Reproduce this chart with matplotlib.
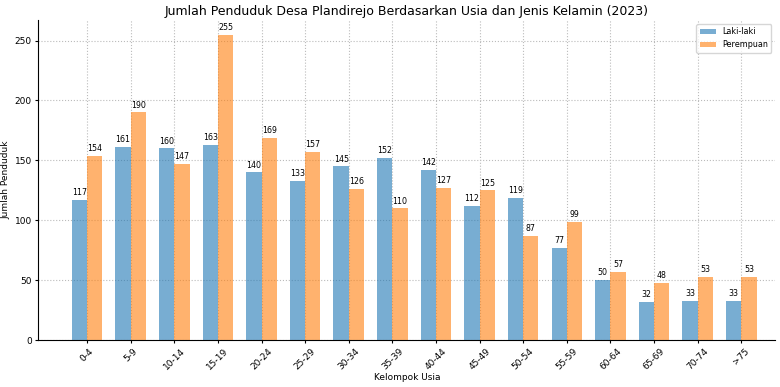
import numpy as np
import matplotlib.pyplot as plt

groups = ['0-4', '5-9', '10-14', '15-19', '20-24', '25-29', '30-34', '35-39',
          '40-44', '45-49', '50-54', '55-59', '60-64', '65-69', '70-74', '>75']
laki = [117, 161, 160, 163, 140, 133, 145, 152, 142, 112, 119, 77, 50, 32, 33, 33]
perempuan = [154, 190, 147, 255, 169, 157, 126, 110, 127, 125, 87, 99, 57, 48, 53, 53]

x = np.arange(len(groups))
w = 0.35

fig = plt.figure(figsize=(7.8, 3.87), dpi=100)
ax = fig.add_subplot(111)
fig.subplots_adjust(left=0.049, right=0.994, top=0.948, bottom=0.121)

b1 = ax.bar(x - w/2, laki, w, color='tab:blue', alpha=0.6, label='Laki-laki')
b2 = ax.bar(x + w/2, perempuan, w, color='tab:orange', alpha=0.6, label='Perempuan')

for bars in (b1, b2):
    for b in bars:
        h = b.get_height()
        ax.annotate(f'{int(h)}', (b.get_x() + b.get_width()/2, h), xytext=(0, 2),
                    textcoords='offset points', ha='center', va='bottom', fontsize=5.7)

ax.set_xticks(x)
ax.set_xticklabels(groups, rotation=45, fontsize=6.5)
ax.tick_params(axis='y', labelsize=6.5)
ax.tick_params(length=2.5, pad=2)
ax.set_xlim(-1.12, 15.78)
ax.set_ylim(0, 267)
ax.set_xlabel('Kelompok Usia', fontsize=6.5, labelpad=1)
ax.set_ylabel('Jumlah Penduduk', fontsize=6.5, labelpad=3)
ax.set_title('Jumlah Penduduk Desa Plandirejo Berdasarkan Usia dan Jenis Kelamin (2023)',
             fontsize=9, pad=4)
ax.grid(True, linestyle=':', color='#bbbbbb', linewidth=0.8)
ax.set_axisbelow(True)
ax.spines['top'].set_visible(False)
ax.spines['right'].set_visible(False)
ax.legend(loc='upper right', fontsize=5.8)

plt.savefig('out.png', dpi=100)
